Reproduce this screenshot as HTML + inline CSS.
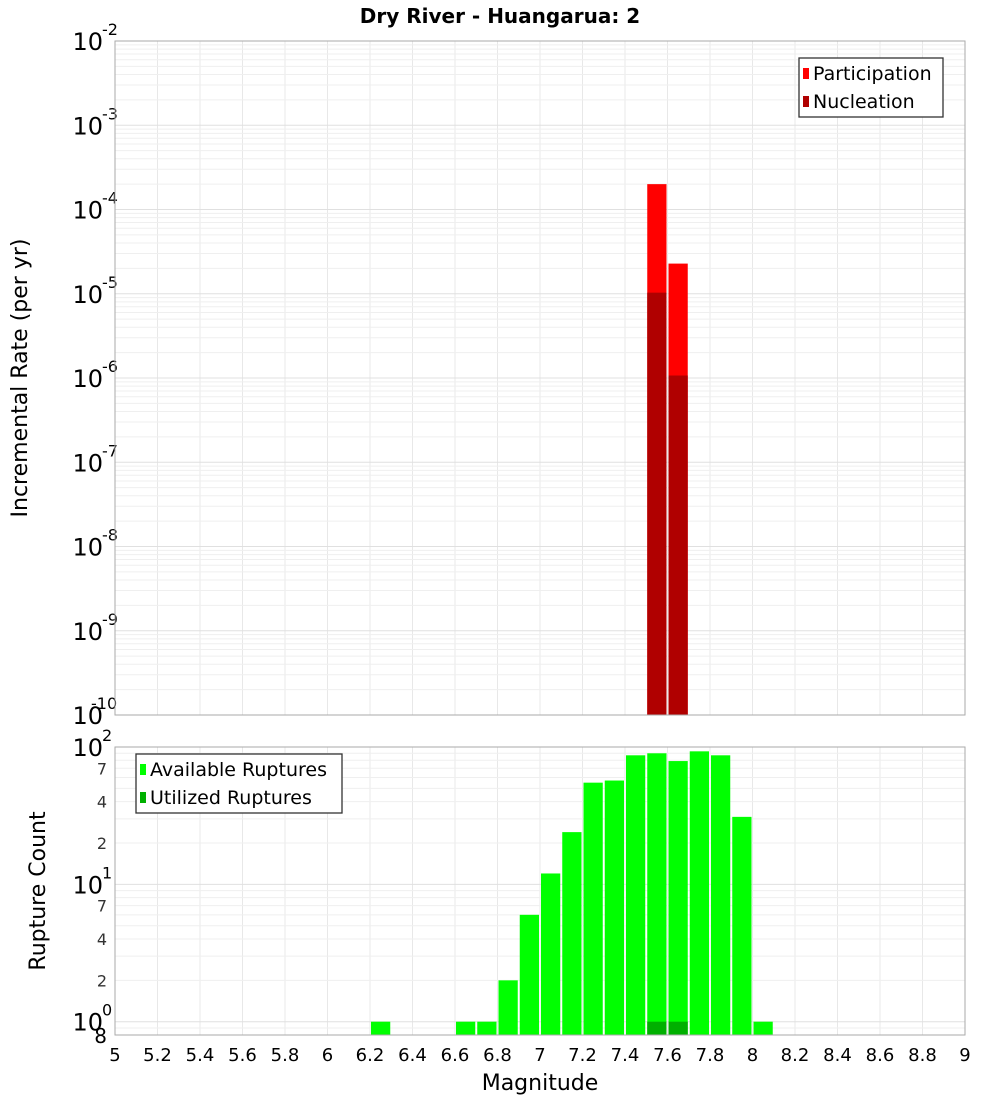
<!DOCTYPE html>
<html><head><meta charset="utf-8"><style>
body{margin:0;background:#fff;font-family:"DejaVu Sans","Liberation Sans",sans-serif;}
svg text{font-family:"DejaVu Sans","Liberation Sans",sans-serif;}
</style></head><body>
<svg id="c" width="1000" height="1100" xmlns="http://www.w3.org/2000/svg">
<text x="500" y="23" text-anchor="middle" font-size="20" font-weight="bold">Dry River - Huangarua: 2</text>
<text transform="translate(27,378) rotate(-90)" text-anchor="middle" font-size="22">Incremental Rate (per yr)</text>
<text transform="translate(45,891) rotate(-90)" text-anchor="middle" font-size="22">Rupture Count</text>
<text x="540" y="1090" text-anchor="middle" font-size="22">Magnitude</text>
<g id="topg"></g><g id="botg"></g>
</svg>
<script>
const magBins=[7.55,7.65];
const participation=[2.0e-4,2.28e-5];
const nucleation=[1.03e-5,1.07e-6];
const countBins=[6.25,6.65,6.75,6.85,6.95,7.05,7.15,7.25,7.35,7.45,7.55,7.65,7.75,7.85,7.95,8.05];
const available=[1,1,1,2,6,12,24,55,57,87,90,79,93,87,31,1];
const utilBins=[7.55,7.65];
const utilized=[1,1];
const xTicks=["5","5.2","5.4","5.6","5.8","6","6.2","6.4","6.6","6.8","7","7.2","7.4","7.6","7.8","8","8.2","8.4","8.6","8.8","9"];
const topExps=[-2,-3,-4,-5,-6,-7,-8,-9,-10];
const botExps=[2,1,0];
const botMinor=[2,4,7];

const NS="http://www.w3.org/2000/svg";
const L=115,R=965,T1=41,B1=715,T2=747,B2=1035;
const xs=m=>L+(m-5)/4*(R-L);
const y1=v=>T1+(-2-Math.log10(v))/8*(B1-T1);
const botMin=Math.log10(0.8);
const y2=v=>T2+(2-Math.log10(v))/(2-botMin)*(B2-T2);
function mk(p,tag,a){const e=document.createElementNS(NS,tag);for(const k in a)e.setAttribute(k,a[k]);p.appendChild(e);return e;}
const gTop=document.getElementById('topg'),gBot=document.getElementById('botg');

function frame(g,T,B,name){
  const r=mk(g,'rect',{x:L,y:T,width:R-L,height:B-T,fill:'#fff',stroke:'none'});
  
  
  for(let i=0;i<xTicks.length;i++){const x=xs(5+i*0.2);
    const l=mk(g,'line',{x1:x,x2:x,y1:T,y2:B,stroke:'#e8e8e8','stroke-width':1});
    
    }
}
frame(gTop,T1,B1,'top');
for(let e=-10;e<-2;e++){for(let k=1;k<10;k++){const y=y1(k*Math.pow(10,e));
  const l=mk(gTop,'line',{x1:L,x2:R,y1:y,y2:y,stroke:k==1?'#e0e0e0':'#efefef','stroke-width':1});
  
  }}
frame(gBot,T2,B2,'bottom');
for(let e=-1;e<2;e++){for(let k=1;k<10;k++){const v=k*Math.pow(10,e);if(v<0.8)continue;const y=y2(v);
  const l=mk(gBot,'line',{x1:L,x2:R,y1:y,y2:y,stroke:k==1?'#e0e0e0':'#efefef','stroke-width':1});
  
  }}

function bar(g,m,yTop,yBot,fill,name){
  const x0=xs(m-0.05)+1,x1=xs(m+0.05)-1;
  const b=mk(g,'rect',{x:x0,y:yTop,width:x1-x0,height:yBot-yTop,fill:fill});
  
  
}
participation.forEach((v,i)=>bar(gTop,magBins[i],y1(v),B1,'#ff0000','participation-bar'));
nucleation.forEach((v,i)=>bar(gTop,magBins[i],y1(v),B1,'#b00000','nucleation-bar'));
available.forEach((v,i)=>bar(gBot,countBins[i],y2(v),B2,'#00ff00','available-bar'));
utilized.forEach((v,i)=>bar(gBot,utilBins[i],y2(v),B2,'#00b000','utilized-bar'));

[[T1,B1],[T2,B2]].forEach(([T,B])=>{const r=mk(document.getElementById('c'),'rect',{x:L,y:T,width:R-L,height:B-T,fill:'none',stroke:'#aaa'});
  
  });

topExps.forEach(e=>{const y=y1(Math.pow(10,e));
  const t=mk(gTop,'text',{x:L-12,y:y+9,'text-anchor':'end','font-size':24});
  
  
  t.textContent='10';
  const s=mk(gTop,'text',{x:L-13,y:y-6,'font-size':16,'text-anchor':'start'});
  
  
  s.textContent=String(e);
  if(e==-10){s.setAttribute('x',L-24);}
});
botExps.forEach(e=>{const y=y2(Math.pow(10,e));
  const t=mk(gBot,'text',{x:L-12,y:y+9,'text-anchor':'end','font-size':24});
  
  
  t.textContent='10';
  const s=mk(gBot,'text',{x:L-13,y:y-6,'font-size':16});
  
  
  s.textContent=String(e);
  if(e<2)botMinor.forEach(k=>{const yy=y2(k*Math.pow(10,e));
    const m=mk(gBot,'text',{x:L-8,y:yy+6,'text-anchor':'end','font-size':16,fill:'#333'});
    
    
    m.textContent=String(k);});
});
{const m=mk(gBot,'text',{x:L-8,y:B2+8,'text-anchor':'end','font-size':20});
 
 
 m.textContent='8';}
xTicks.forEach((s,i)=>{const t=mk(gBot,'text',{x:xs(5+i*0.2),y:1061,'text-anchor':'middle','font-size':18});
  
  
  t.textContent=s;});

function legend(g,x,y,w,items,name){
  const r=mk(g,'rect',{x:x,y:y,width:w,height:59,fill:'#fff',stroke:'#333','stroke-width':1.3});
  
  
  items.forEach(([lab,col],i)=>{
    const sw=mk(g,'rect',{x:x+4,y:y+10+i*28,width:6,height:11,fill:col});
    
    
    const t=mk(g,'text',{x:x+14,y:y+22+i*28,'font-size':19});
    
    
    t.textContent=lab;});
}
legend(gTop,799,58,144,[['Participation','#ff0000'],['Nucleation','#b00000']],'top-legend');
legend(gBot,136,754,206,[['Available Ruptures','#00ff00'],['Utilized Ruptures','#00b000']],'bottom-legend');
</script>
</body></html>
